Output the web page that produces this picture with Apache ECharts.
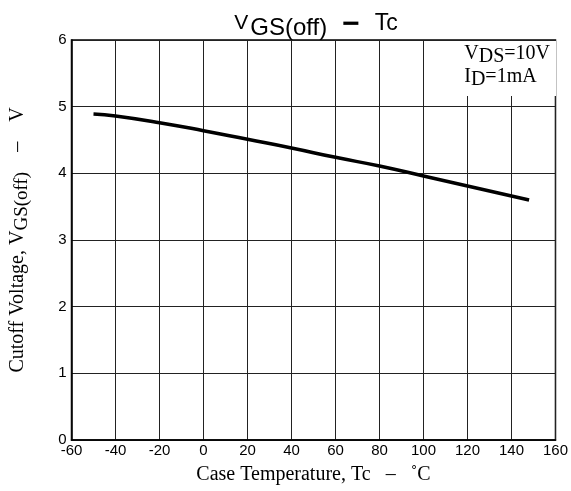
<!DOCTYPE html>
<html>
<head>
<meta charset="utf-8">
<script src="https://cdn.jsdelivr.net/npm/echarts@6/dist/echarts.min.js"></script>
<style>
  html, body { margin: 0; padding: 0; background: #fff; }
  #chart { width: 571px; height: 491px; }
</style>
</head>
<body>
<div id="chart"></div>
<script>
// Case temperature (°C) vs cutoff voltage (V)
const tempC = [-50, -40, -20, 0, 20, 40, 60, 80, 100, 120, 140, 148];
const vgsOff = [4.89, 4.86, 4.76, 4.64, 4.51, 4.38, 4.24, 4.11, 3.96, 3.81, 3.66, 3.6];

const xMin = -60, xMax = 160, xStep = 20;
const yMin = 0, yMax = 6, yStep = 1;

const chart = echarts.init(document.getElementById("chart"));

const sans = "Liberation Sans";
const serif = "Liberation Serif";

const option = {
  backgroundColor: "#fff",
  animation: false,
  title: {
    text: "{v|V}{s|GS(off)}   {d|−}   {t|Tc}",
    left: 311,
    textAlign: "center",
    top: 5,
    textStyle: {
      fontWeight: "normal",
      rich: {
        v: { fontFamily: sans, fontSize: 21, color: "#000", fontWeight: "normal", padding: [0, 2, 10, 0] },
        s: { fontFamily: sans, fontSize: 24, color: "#000", fontWeight: "normal" },
        d: { fontFamily: sans, fontSize: 30, color: "#000", fontWeight: "bold", padding: [0, 0, 6, 0] },
        t: { fontFamily: sans, fontSize: 23, color: "#000", fontWeight: "normal", padding: [0, 0, 8, 0] },
      },
    },
  },
  grid: {
    left: 67,
    right: 14,
    top: 40,
    bottom: 51,
    show: true,
    borderColor: "#000",
    borderWidth: 1.5,
  },
  xAxis: {
    type: "value",
    min: xMin,
    max: xMax,
    interval: xStep,
    name: "Case Temperature, Tc   –   ˚C",
    nameLocation: "middle",
    nameGap: 25,
    nameTextStyle: { fontFamily: serif, fontSize: 20, color: "#000" },
    axisLine: { show: true, onZero: false, lineStyle: { color: "#000", width: 1.5 } },
    axisTick: { show: false },
    axisLabel: { fontFamily: sans, fontSize: 15, color: "#000", margin: 3 },
    splitLine: { show: true, lineStyle: { color: "#222", width: 1 } },
  },
  yAxis: {
    type: "value",
    min: yMin,
    max: yMax,
    interval: yStep,
    name: "Cutoff Voltage, V{s|GS(off)}    –    V",
    nameLocation: "middle",
    nameRotate: 90,
    nameGap: 40,
    nameTextStyle: {
      fontFamily: serif,
      fontSize: 20,
      color: "#000",
      rich: {
        s: { fontFamily: serif, fontSize: 19, color: "#000", padding: [8, 0, 0, 0] },
      },
    },
    axisLine: { show: true, onZero: false, lineStyle: { color: "#000", width: 1.5 } },
    axisTick: { show: false },
    axisLabel: { fontFamily: sans, fontSize: 15, color: "#000", margin: 5, padding: [0, 0, 3, 0] },
    splitLine: { show: true, lineStyle: { color: "#222", width: 1 } },
  },
  graphic: [
    {
      type: "rect",
      left: 430,
      top: 41,
      shape: { width: 126, height: 55 },
      style: { fill: "#fff" },
      z: 10,
    },
    {
      type: "text",
      right: 21,
      top: 42,
      style: {
        text: "V{s|DS}=10V\nI{s|D}=1mA",
        align: "right",
        fontFamily: serif,
        fontSize: 20,
        fill: "#000",
        lineHeight: 23,
        rich: {
          s: { fontFamily: serif, fontSize: 20, fill: "#000", padding: [7, 0, 0, 0] },
        },
      },
      z: 11,
    },
  ],
  series: [
    {
      type: "line",
      data: tempC.map((t, i) => [t, vgsOff[i]]),
      smooth: true,
      showSymbol: false,
      lineStyle: { color: "#000", width: 3.5 },
      z: 5,
    },
  ],
};

chart.setOption(option);
</script>
</body>
</html>
